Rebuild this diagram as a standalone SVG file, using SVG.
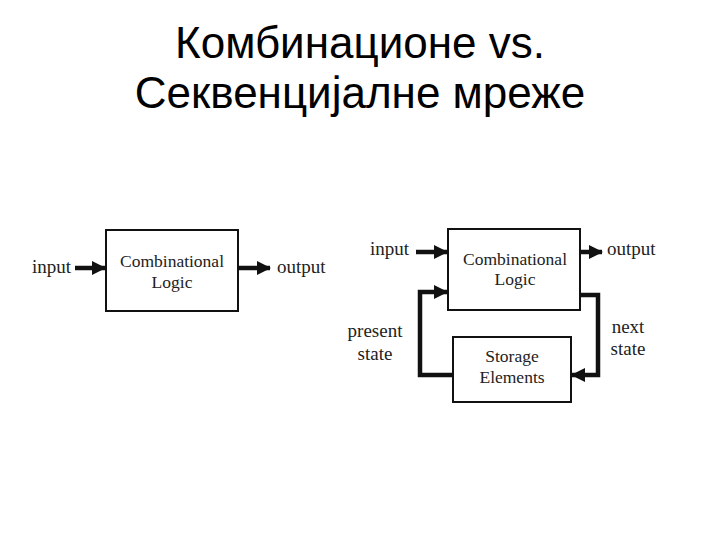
<svg xmlns="http://www.w3.org/2000/svg" width="720" height="540" viewBox="0 0 720 540">
<style>
.title{font-family:"Liberation Sans",Arial,sans-serif;font-size:44px;fill:#000;text-anchor:middle}
.lbl{font-family:"Liberation Serif","Times New Roman",serif;font-size:19px;fill:#222}
.in{font-family:"Liberation Serif","Times New Roman",serif;font-size:17.5px;fill:#222;text-anchor:middle}
.box{fill:#fff;stroke:#111;stroke-width:2}
.c{text-anchor:middle}
.wire{fill:none;stroke:#111;stroke-width:4.5}
</style>
<defs>
<marker id="ah" markerUnits="userSpaceOnUse" markerWidth="14" markerHeight="14" viewBox="0 0 14 14" refX="13" refY="7" orient="auto">
<path d="M0,0 L14,7 L0,14 Z" fill="#111"/>
</marker>
</defs>
<rect width="720" height="540" fill="#fff"/>
<g id="title">
<text class="title" x="360" y="58">Комбинационе vs.</text>
<text class="title" x="360" y="108">Секвенцијалне мреже</text>
</g>
<g id="comb1">
<rect class="box" x="106" y="230" width="132" height="81"/>
<text class="in" x="172" y="267">Combinational</text>
<text class="in" x="172" y="288">Logic</text>
</g>
<g id="comb2">
<rect class="box" x="448" y="229" width="132" height="81"/>
<text class="in" x="515" y="265">Combinational</text>
<text class="in" x="515" y="285">Logic</text>
</g>
<g id="storage">
<rect class="box" x="453" y="337" width="118" height="65"/>
<text class="in" x="512" y="362">Storage</text>
<text class="in" x="512" y="383">Elements</text>
</g>
<g id="labels">
<text class="lbl" x="32" y="273">input</text>
<text class="lbl" x="277" y="273">output</text>
<text class="lbl" x="370" y="255">input</text>
<text class="lbl" x="607" y="255">output</text>
<text class="lbl c" x="375" y="337">present</text>
<text class="lbl c" x="375" y="360">state</text>
<text class="lbl c" x="628" y="333">next</text>
<text class="lbl c" x="628" y="355">state</text>
</g>
<g id="connectors">
<line class="wire" x1="75" y1="268" x2="105" y2="268" marker-end="url(#ah)"/>
<line class="wire" x1="239" y1="268" x2="270" y2="268" marker-end="url(#ah)"/>
<line class="wire" x1="416" y1="252" x2="447" y2="252" marker-end="url(#ah)"/>
<line class="wire" x1="581" y1="252" x2="602" y2="252" marker-end="url(#ah)"/>
<polyline class="wire" points="581,295 598,295 598,375 572,375" marker-end="url(#ah)"/>
<polyline class="wire" points="452,375 420,375 420,292 447,292" marker-end="url(#ah)"/>
</g>
</svg>
